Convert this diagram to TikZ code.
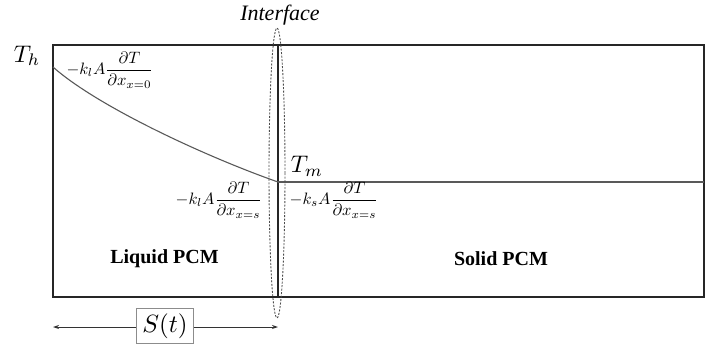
\documentclass[tikz,border=0pt]{standalone}
\usepackage{fontspec}
\setmainfont{Liberation Serif}
\usetikzlibrary{arrows.meta}
\newcommand{\mathbig}[2]{\scalebox{#1}{$#2$}}
\begin{document}
\begin{tikzpicture}[x=1pt,y=-1pt,
  frame/.style={draw=black!85, line width=2.2pt},
  ifline/.style={draw=black!85, line width=2.8pt},
  tline/.style={draw=black!65, line width=1.3pt},
  tcurve/.style={draw=black!65, line width=1.1pt},
  ifell/.style={draw=black!70, dash pattern=on 2pt off 1.5pt, line width=0.9pt},
  dim/.style={draw=black!80, line width=0.9pt, {Stealth[length=6pt,width=4pt]}-{Stealth[length=6pt,width=4pt]}},
  flux/.style={inner sep=0pt},
  temp/.style={inner sep=0pt},
  lbl/.style={inner sep=0pt, font=\fontsize{20}{23}\selectfont\bfseries},
]
\useasboundingbox (0,0) rectangle (706,345);
\coordinate (TL) at (53,45);
\coordinate (BR) at (704,297);
\coordinate (itop) at (278,45);
\coordinate (ibot) at (278,297);
\coordinate (x0) at (53,67);
\coordinate (xs) at (278,182);
\coordinate (xr) at (704,182);
\coordinate (ec) at (277,173);
\coordinate (aL) at (53,327);
\coordinate (aR) at (278,327);

\draw[frame] (TL) rectangle (BR);
\draw[ifline] (itop) -- (ibot);
\draw[tcurve] (x0) .. controls (98,107) and (208,157.5) .. (xs);
\draw[tline] (xs) -- (xr);
\draw[ifell] (ec) ellipse [x radius=8pt, y radius=145pt];

\node[temp] (Th) at (27,56) {\mathbig{2.4}{T_h}};
\node[temp] (Tm) at (307,166) {\mathbig{2.4}{T_m}};
\node[flux] (q0) at (110,70) {\mathbig{1.65}{-k_lA\displaystyle\frac{\partial T}{\partial x_{x=0}}}};
\node[flux] (qls) at (219,200) {\mathbig{1.65}{-k_lA\displaystyle\frac{\partial T}{\partial x_{x=s}}}};
\node[flux] (qss) at (334,200) {\mathbig{1.65}{-k_sA\displaystyle\frac{\partial T}{\partial x_{x=s}}}};
\node[inner sep=0pt, font=\fontsize{22}{26}\selectfont\itshape] (iface) at (280,15) {Interface};
\node[lbl] (liq) at (164.5,259) {Liquid PCM};
\node[lbl] (sol) at (501,259) {Solid PCM};

\draw[dim] (aL) -- (aR);
\node[draw=black!45, line width=1pt, fill=white, minimum width=57pt, minimum height=35pt, inner sep=0pt] (S) at (165,326) {\mathbig{2.5}{S(t)}};
\end{tikzpicture}
\end{document}
